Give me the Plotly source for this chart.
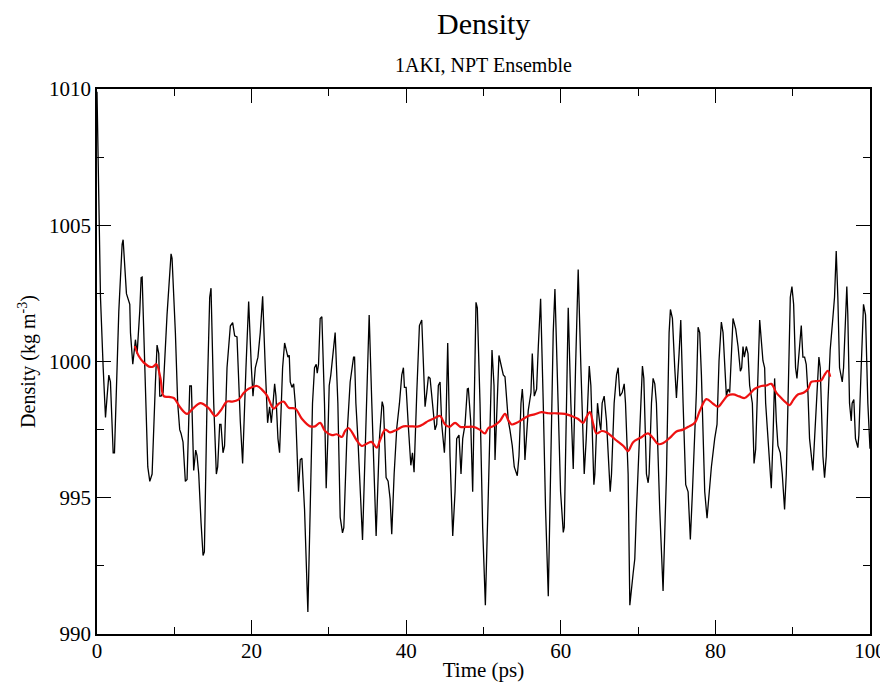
import plotly.graph_objects as go

# Black trace: density vs time (vertices)
t_black = [0.0, 0.45, 0.8, 1.1, 1.31, 1.53, 1.74, 2.09, 2.26, 2.82, 3.25, 3.38, 3.81, 4.24, 4.33, 4.63,
           4.97, 5.19, 5.53, 5.71, 5.84, 6.27, 6.57, 6.83, 7.13, 7.56, 7.77, 7.99, 8.12, 8.29, 8.55, 9.06,
           9.58, 9.71, 10.14, 10.44, 10.7, 10.87, 11.13, 11.43, 11.65, 12.0, 12.21, 12.51, 12.77, 12.94,
           13.16, 13.46, 13.72, 13.89, 14.23, 14.58, 14.75, 15.1, 15.44, 15.61, 15.87, 16.04, 16.3, 16.5,
           16.82, 17.25, 17.55, 17.81, 18.11, 18.54, 18.84, 19.27, 19.62, 19.97, 20.18, 20.48, 20.82,
           21.12, 21.43, 21.77, 22.07, 22.33, 22.55, 22.72, 22.98, 23.15, 23.41, 23.62, 24.01, 24.27,
           24.57, 24.7, 24.87, 25.0, 25.22, 25.44, 25.65, 25.87, 26.07, 26.29, 26.51, 26.85, 27.28,
           27.58, 27.88, 28.14, 28.36, 28.49, 28.66, 28.87, 29.09, 29.43, 29.65, 29.86, 30.04, 30.25,
           30.42, 30.81, 31.16, 31.46, 31.76, 31.93, 32.32, 32.75, 33.19, 33.32, 33.49, 33.75, 34.35,
           34.69, 35.21, 35.55, 35.85, 36.11, 36.54, 36.89, 37.06, 37.4, 37.66, 37.92, 38.13, 38.44,
           38.78, 39.13, 39.43, 39.64, 39.77, 39.99, 40.29, 40.6, 40.81, 41.02, 41.37, 41.71, 42.01,
           42.31, 42.44, 42.66, 42.87, 43.09, 43.43, 43.73, 43.95, 44.16, 44.38, 44.6, 44.94, 45.15,
           45.37, 45.67, 46.02, 46.32, 46.53, 46.83, 47.09, 47.31, 47.61, 47.91, 48.04, 48.34, 48.6,
           48.77, 49.03, 49.2, 49.55, 49.89, 50.24, 50.63, 50.93, 51.1, 51.36, 51.49, 52.0, 52.26,
           52.56, 52.78, 52.99, 53.21, 53.42, 53.72, 53.98, 54.37, 54.59, 54.85, 55.02, 55.15, 55.36,
           55.79, 56.14, 56.31, 56.57, 56.87, 57.09, 57.39, 57.73, 58.03, 58.38, 58.72, 59.02, 59.24,
           59.67, 59.97, 60.32, 60.45, 60.74, 60.96, 61.3, 61.61, 61.91, 62.25, 62.6, 63.03, 63.29,
           63.68, 63.89, 64.06, 64.28, 64.41, 64.75, 65.05, 65.18, 65.35, 65.61, 65.91, 66.21, 66.39,
           66.56, 66.9, 67.21, 67.42, 67.64, 67.94, 68.2, 68.37, 68.71, 68.93, 69.36, 69.57, 69.79,
           70.13, 70.56, 70.74, 71.08, 71.3, 71.42, 71.73, 71.94, 72.16, 72.37, 72.8, 73.23, 73.67,
           74.01, 74.18, 74.44, 74.74, 74.96, 75.3, 75.52, 75.82, 76.16, 76.47, 76.76, 77.03, 77.33,
           77.54, 77.76, 77.97, 78.19, 78.4, 78.62, 78.92, 79.18, 79.48, 79.91, 80.21, 80.47, 80.77,
           80.99, 81.2, 81.42, 81.63, 81.85, 82.28, 82.63, 82.93, 83.23, 83.4, 83.57, 83.74, 84.0,
           84.22, 84.43, 84.78, 85.0, 85.21, 85.38, 85.55, 85.73, 86.15, 86.37, 86.5, 86.8, 87.02,
           87.23, 87.45, 87.66, 87.88, 88.09, 88.39, 88.65, 88.95, 89.17, 89.39, 89.69, 89.9, 90.12,
           90.37, 90.55, 90.89, 91.11, 91.32, 91.54, 91.75, 91.97, 92.18, 92.4, 92.61, 92.83, 93.13,
           93.39, 93.56, 93.73, 93.91, 94.12, 94.34, 94.55, 94.85, 95.19, 95.41, 95.63, 95.84, 96.06,
           96.41, 96.58, 96.83, 97.0, 97.13, 97.35, 97.57, 97.69, 97.91, 98.12, 98.43, 98.56, 98.86,
           99.16, 99.42, 99.72, 100.0]
rho_black = [1009.9, 1002.36, 999.77, 997.95, 998.73, 999.5, 999.25, 996.65, 996.65, 1001.84, 1004.3,
             1004.47, 1002.49, 1002.1, 1001.06, 999.9, 1000.8, 1000.29, 1001.84, 1003.08, 1003.1, 998.47,
             996.13, 995.6, 995.87, 999.25, 1000.6, 1000.29, 998.73, 998.73, 998.86, 1001.71, 1003.95,
             1003.79, 1001.06, 998.47, 997.5, 997.36, 997.04, 995.6, 995.67, 999.1, 999.1, 996.0, 996.75,
             996.55, 995.87, 994.08, 992.88, 993.01, 998.47, 1002.36, 1002.69, 998.47, 995.87, 996.13,
             997.69, 997.69, 996.65, 996.9, 999.77, 1001.3, 1001.43, 1000.94, 1000.9, 997.8, 996.26,
             999.77, 1002.2, 999.77, 998.73, 999.77, 1000.16, 1001.06, 1002.39, 999.77, 997.75, 998.34,
             997.75, 998.27, 999.18, 998.73, 997.17, 996.65, 999.77, 1000.68, 1000.29, 1000.16, 1000.23,
             999.25, 999.05, 999.18, 998.47, 996.52, 995.22, 996.39, 996.45, 994.57, 990.81, 994.57,
             998.47, 999.77, 999.9, 999.57, 999.9, 1001.58, 1001.64, 998.47, 995.35, 997.17, 999.12,
             999.51, 1000.03, 1001.06, 998.47, 994.29, 993.71, 993.9, 997.17, 999.25, 1000.16, 1000.16,
             998.47, 997.17, 993.45, 996.52, 1001.71, 998.47, 996.0, 993.6, 997.17, 998.53, 998.34,
             995.74, 995.61, 994.96, 993.66, 995.87, 997.56, 998.47, 999.51, 999.77, 999.05, 999.05,
             997.56, 996.19, 996.65, 995.94, 998.86, 1001.32, 1001.52, 999.51, 998.34, 998.86, 999.44,
             999.38, 998.21, 997.49, 997.69, 999.12, 999.25, 997.69, 996.65, 997.82, 1000.68, 996.52,
             993.6, 995.22, 997.17, 997.3, 995.87, 997.17, 997.69, 998.99, 999.01, 997.82, 995.22,
             998.47, 1002.17, 1001.97, 998.47, 993.92, 991.06, 995.22, 998.47, 1000.42, 999.12, 996.39,
             1000.22, 999.9, 999.51, 999.44, 998.47, 997.82, 997.49, 996.91, 996.13, 995.81, 996.52,
             998.47, 998.99, 998.47, 996.39, 998.21, 998.86, 1000.29, 998.73, 998.99, 1000.55, 1002.3,
             998.47, 994.57, 991.39, 995.87, 1001.06, 1002.66, 998.47, 995.22, 993.73, 993.92, 998.47,
             1001.97, 998.47, 996.06, 999.77, 1003.38, 999.77, 995.87, 997.17, 999.83, 999.12, 997.17,
             995.48, 995.87, 998.47, 997.69, 997.49, 998.47, 998.73, 997.82, 995.87, 995.22, 995.87,
             998.47, 999.51, 999.77, 998.73, 998.86, 999.18, 998.47, 995.87, 991.06, 992.23, 992.75,
             994.57, 997.17, 999.83, 999.38, 995.87, 995.55, 995.87, 998.47, 999.38, 999.18, 998.47,
             994.57, 991.58, 995.87, 1001.06, 1001.91, 1001.58, 999.77, 998.66, 1000.29, 1001.52, 998.47,
             995.48, 995.22, 993.47, 995.22, 997.17, 998.86, 1001.26, 1001.06, 999.51, 997.17, 995.22,
             994.25, 995.22, 996.13, 997.17, 997.69, 1000.03, 1001.45, 1001.06, 999.77, 998.73, 998.99,
             998.86, 1001.58, 1001.19, 1000.55, 999.64, 999.77, 1000.55, 1000.16, 1000.55, 1000.29,
             999.12, 998.47, 996.26, 996.78, 998.47, 1000.29, 1001.52, 1000.03, 999.77, 998.47, 997.17,
             995.87, 995.35, 997.17, 999.38, 997.82, 996.91, 996.65, 995.87, 994.57, 995.87, 998.47,
             1002.36, 1002.75, 1002.1, 999.77, 999.38, 1000.55, 1001.32, 1000.16, 1000.16, 999.9, 998.86,
             997.17, 996.52, 996.0, 997.17, 998.73, 1000.16, 999.77, 997.82, 996.52, 995.74, 996.52,
             998.47, 1000.42, 1001.58, 1002.36, 1004.05, 1002.36, 999.77, 999.25, 999.77, 1001.71,
             1002.75, 1001.71, 998.47, 997.82, 998.47, 998.6, 997.17, 996.84, 997.3, 999.77, 1002.1,
             1001.71, 998.47, 996.8]

# Red trace: running average
t_avg = [4.89, 5.4, 6.05, 6.9, 7.3, 7.69, 8.2, 8.63, 9.3, 9.93, 10.8, 11.65, 12.5, 13.37, 14.4, 15.31,
         16.0, 16.82, 17.5, 18.3, 19.0, 19.62, 20.7, 21.4, 22.0, 22.85, 23.5, 24.14, 24.8, 25.65, 26.5,
         27.58, 28.2, 28.87, 29.5, 30.39, 31.0, 31.67, 32.1, 32.53, 33.0, 33.61, 34.26, 35.0, 35.5, 36.2,
         36.6, 37.3, 37.9, 38.8, 39.64, 40.5, 41.58, 42.2, 42.87, 43.5, 44.38, 45.0, 45.6, 46.32, 47.0,
         47.8, 48.7, 49.5, 50.19, 50.6, 51.2, 52.13, 52.78, 53.2, 53.64, 54.3, 54.9, 55.79, 56.6, 57.51,
         58.4, 59.2, 60.53, 61.4, 62.2, 62.89, 63.3, 63.76, 64.2, 64.62, 65.3, 65.9, 66.6, 67.2, 68.1,
         68.71, 69.0, 69.36, 70.3, 71.3, 71.9, 72.59, 73.2, 74.1, 74.96, 75.8, 76.6, 77.33, 78.0, 78.83,
         79.7, 80.34, 81.0, 81.6, 82.28, 83.1, 83.78, 84.4, 85.1, 85.94, 86.6, 87.23, 87.9, 88.52, 89.1,
         89.6, 90.1, 90.67, 91.4, 92.0, 92.4, 93.0, 93.69, 94.1, 94.55, 94.85]
rho_avg = [1000.57, 1000.2, 999.96, 999.8, 999.82, 999.9, 999.4, 998.73, 998.7, 998.66, 998.3, 998.08,
           998.3, 998.47, 998.3, 998.0, 998.2, 998.53, 998.53, 998.6, 998.85, 999.0, 999.1, 998.95,
           998.75, 998.27, 998.45, 998.53, 998.3, 998.27, 997.9, 997.62, 997.62, 997.75, 997.45, 997.3,
           997.33, 997.23, 997.45, 997.56, 997.4, 997.1, 996.9, 997.0, 997.05, 996.84, 997.1, 997.5,
           997.4, 997.5, 997.62, 997.62, 997.62, 997.7, 997.82, 997.9, 998.0, 997.7, 997.6, 997.75,
           997.6, 997.6, 997.6, 997.5, 997.36, 997.55, 997.62, 997.82, 998.08, 997.85, 997.69, 997.75,
           997.85, 998.0, 998.06, 998.14, 998.1, 998.1, 998.08, 998.0, 997.9, 997.75, 997.95, 998.14,
           997.7, 997.36, 997.45, 997.4, 997.25, 997.1, 996.9, 996.71, 996.85, 997.04, 997.2, 997.36,
           997.2, 996.97, 997.0, 997.2, 997.43, 997.5, 997.62, 997.75, 998.2, 998.62, 998.45, 998.34,
           998.55, 998.75, 998.79, 998.72, 998.66, 998.8, 999.0, 999.1, 999.12, 999.18, 998.85, 998.66,
           998.5, 998.4, 998.6, 998.79, 998.85, 999.0, 999.25, 999.28, 999.31, 999.5, 999.66, 999.44]

SERIF = "Liberation Serif"

fig = go.Figure()
fig.add_trace(go.Scatter(x=t_black, y=rho_black, mode="lines",
                         line=dict(color="black", width=1.3), showlegend=False))
fig.add_trace(go.Scatter(x=t_avg, y=rho_avg, mode="lines",
                         line=dict(color="#ee1111", width=2.2, shape="spline"), showlegend=False))

axis_common = dict(showgrid=False, zeroline=False, showline=True, linecolor="black", linewidth=1.6,
                   mirror="allticks", ticks="inside", ticklen=14, tickwidth=1.2, tickcolor="black",
                   automargin=False, layer="above traces",
                   tickfont=dict(family=SERIF, size=21, color="black"))

fig.update_xaxes(range=[0, 100], tick0=0, dtick=20, ticklabelstandoff=-3,
                 minor=dict(dtick=10, tick0=0, ticks="inside", ticklen=7, tickwidth=1.2,
                            tickcolor="black", showgrid=False),
                 title=dict(text="Time (ps)", font=dict(family=SERIF, size=21, color="black"),
                            standoff=0),
                 **axis_common)
fig.update_yaxes(range=[990, 1010], tick0=990, dtick=5,
                 minor=dict(dtick=2.5, tick0=990, ticks="inside", ticklen=7, tickwidth=1.2,
                            tickcolor="black", showgrid=False),
                 title=dict(text="Density (kg m<sup>-3</sup>)",
                            font=dict(family=SERIF, size=20, color="black"), standoff=8),
                 **axis_common)

# the page body adds an 8 px offset, so the figure is 880x675 placed at (8, 8)
fig.update_layout(
    width=880, height=675,
    margin=dict(l=88.5, r=17.5, t=81, b=49, pad=0),
    paper_bgcolor="white", plot_bgcolor="white",
    font=dict(family=SERIF, color="black"),
    annotations=[
        dict(text="Density", xref="paper", yref="paper", x=0.5, y=1, yshift=47,
             showarrow=False, xanchor="center", yanchor="bottom",
             font=dict(family=SERIF, size=30, color="black")),
        dict(text="1AKI, NPT Ensemble", xref="paper", yref="paper", x=0.5, y=1, yshift=11,
             showarrow=False, xanchor="center", yanchor="bottom",
             font=dict(family=SERIF, size=20, color="black")),
    ],
)

fig.write_html("out.html")
